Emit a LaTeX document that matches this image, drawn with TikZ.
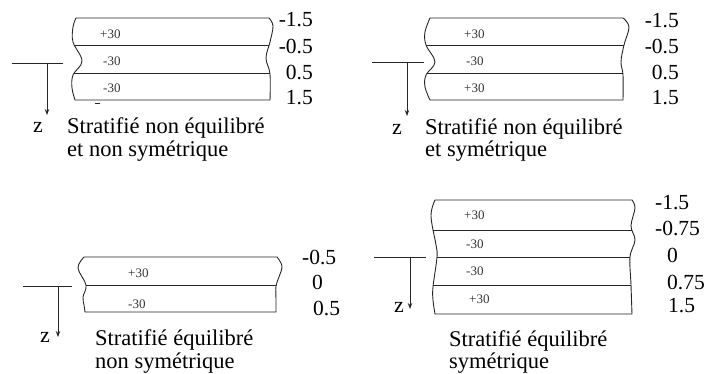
\documentclass[tikz,border=0pt]{standalone}
\usepackage{fontspec}
\setmainfont{Liberation Serif}
\usetikzlibrary{arrows.meta}
\begin{document}
\begin{tikzpicture}[x=1pt,y=-1pt,
  edge/.style={line width=0.9pt, draw=black!85},
  layer/.style={font=\fontsize{13}{13}\selectfont, text=black!80, anchor=base west, inner sep=0pt},
  zvalR/.style={font=\fontsize{21.5}{21.5}\selectfont, anchor=base east, inner sep=0pt},
  zvalL/.style={font=\fontsize{21.5}{21.5}\selectfont, anchor=base west, inner sep=0pt},
  captext/.style={font=\fontsize{22.5}{22.5}\selectfont, anchor=base west, inner sep=0pt},
  zlab/.style={font=\fontsize{22}{22}\selectfont, anchor=base west, inner sep=0pt},
  axis/.style={line width=0.9pt, draw=black!85},
  axarrow/.style={line width=0.9pt, draw=black!85, -{Stealth[length=6pt,width=4.5pt]}}]
\useasboundingbox (0,0) rectangle (707,374);

% ---------- Panel 1 ----------
\path[save path=\pA] (76,18) -- (269,18)
  -- plot[smooth,tension=0.6] coordinates {(269,18) (273,26) (270,42) (266,58) (270,74) (270,100)}
  -- (75,100)
  -- plot[smooth,tension=0.6] coordinates {(75,100) (72,88) (73,75) (82,61) (73,42) (73,27) (76,18)} -- cycle;
\begin{scope}
  \clip[use path=\pA];
  \draw[edge] (0,45) -- (707,45) (0,73) -- (707,73);
\end{scope}
\draw[edge,use path=\pA];
\draw[edge] (95,103) -- (100,103);
\node[layer] (a1) at (100,39) {+30};
\node[layer] (a2) at (103,66) {-30};
\node[layer] (a3) at (103,93) {-30};
\node[zvalR] (av1) at (313,27) {-1.5};
\node[zvalR] (av2) at (313,54) {-0.5};
\node[zvalR] (av3) at (313,80) {0.5};
\node[zvalR] (av4) at (313,105) {1.5};
\coordinate (ah1) at (12,63);
\coordinate (ah2) at (63,63);
\coordinate (at) at (47,63);
\coordinate (ab) at (47,115);
\draw[axis] (ah1) -- (ah2);
\draw[axarrow] (at) -- (ab);
\node[zlab] (az) at (33,133) {z};
\node[captext] (ac1) at (67,134) {Stratifié non équilibré};
\node[captext] (ac2) at (67,157) {et non symétrique};

% ---------- Panel 2 ----------
\path[save path=\pB] (430,18) -- (623,18)
  -- plot[smooth,tension=0.6] coordinates {(623,18) (629,27) (624,45) (621,62) (623,75) (623,100)}
  -- (430,100)
  -- plot[smooth,tension=0.6] coordinates {(430,100) (425,87) (426,75) (435,62) (426,45) (425,32) (430,18)} -- cycle;
\begin{scope}
  \clip[use path=\pB];
  \draw[edge] (354,45) -- (707,45) (354,73) -- (707,73);
\end{scope}
\draw[edge,use path=\pB];
\node[layer] (b1) at (464,39) {+30};
\node[layer] (b2) at (466,66) {-30};
\node[layer] (b3) at (464,93) {+30};
\node[zvalR] (bv1) at (679,28) {-1.5};
\node[zvalR] (bv2) at (679,54) {-0.5};
\node[zvalR] (bv3) at (679,80) {0.5};
\node[zvalR] (bv4) at (679,105) {1.5};
\coordinate (bh1) at (372,62);
\coordinate (bh2) at (424,62);
\coordinate (bt) at (407,62);
\coordinate (bb) at (407,116);
\draw[axis] (bh1) -- (bh2);
\draw[axarrow] (bt) -- (bb);
\node[zlab] (bz) at (392,135) {z};
\node[captext] (bc1) at (425,135) {Stratifié non équilibré};
\node[captext] (bc2) at (425,157) {et symétrique};

% ---------- Panel 3 ----------
\path[save path=\pC] (84,257) -- (277,257)
  -- plot[smooth,tension=0.6] coordinates {(277,257) (282,266) (279,277) (276,286) (276,300) (276,312)}
  -- (85,312)
  -- plot[smooth,tension=0.6] coordinates {(85,312) (84,305) (83,297) (86,285) (78,268) (84,257)} -- cycle;
\begin{scope}
  \clip[use path=\pC];
  \draw[edge] (0,285) -- (354,285);
\end{scope}
\draw[edge,use path=\pC];
\node[layer] (c1) at (128,277) {+30};
\node[layer] (c2) at (128,308) {-30};
\node[zvalL] (cv1) at (302,265) {-0.5};
\node[zvalL] (cv2) at (312,290) {0};
\node[zvalL] (cv3) at (313,315) {0.5};
\coordinate (ch1) at (23,286);
\coordinate (ch2) at (72,286);
\coordinate (ct) at (58,286);
\coordinate (cb) at (58,337);
\draw[axis] (ch1) -- (ch2);
\draw[axarrow] (ct) -- (cb);
\node[zlab] (cz) at (40,342) {z};
\node[captext] (cc1) at (95,345) {Stratifié équilibré};
\node[captext] (cc2) at (95,368) {non symétrique};

% ---------- Panel 4 ----------
\path[save path=\pD] (435,200) -- (632,200)
  -- plot[smooth,tension=0.6] coordinates {(632,200) (635,208) (631,226) (635,240) (630,257) (631,285) (632,314)}
  -- (435,314)
  -- plot[smooth,tension=0.6] coordinates {(435,314) (433,300) (433,287) (437,257) (436,245) (431,216) (435,200)} -- cycle;
\begin{scope}
  \clip[use path=\pD];
  \draw[edge] (354,230) -- (707,230) (354,257) -- (707,257) (354,285) -- (707,285);
\end{scope}
\draw[edge,use path=\pD];
\node[layer] (d1) at (464,220) {+30};
\node[layer] (d2) at (466,248) {-30};
\node[layer] (d3) at (466,276) {-30};
\node[layer] (d4) at (469,303) {+30};
\node[zvalL] (dv1) at (655,210) {-1.5};
\node[zvalL] (dv2) at (655,236) {-0.75};
\node[zvalL] (dv3) at (667,262) {0};
\node[zvalL] (dv4) at (667,289) {0.75};
\node[zvalL] (dv5) at (668,312) {1.5};
\coordinate (dh1) at (374,257);
\coordinate (dh2) at (426,257);
\coordinate (dt) at (410,257);
\coordinate (db) at (410,309);
\draw[axis] (dh1) -- (dh2);
\draw[axarrow] (dt) -- (db);
\node[zlab] (dz) at (394,312) {z};
\node[captext] (dc1) at (449,346) {Stratifié équilibré};
\node[captext] (dc2) at (449,368) {symétrique};
\end{tikzpicture}
\end{document}
